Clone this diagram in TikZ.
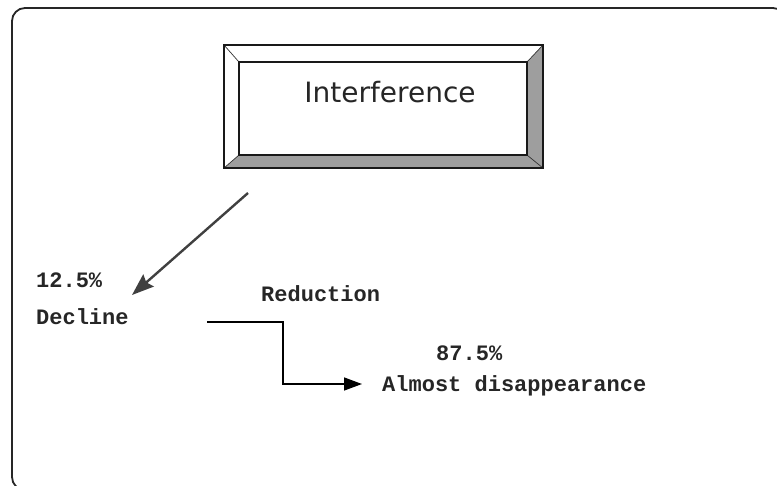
\documentclass[tikz,border=0pt]{standalone}
\usepackage{fontspec}
\newfontfamily\etichfont{Liberation Mono}
\newfontfamily\titfont{DejaVu Sans}
\usetikzlibrary{arrows.meta}

\begin{document}
\begin{tikzpicture}[
	x=1pt, y=-1pt,
	cornice/.style={line width=1.8pt, rounded corners=13pt, draw=black!85},
	smusso/.style={line width=1.6pt, line join=miter, draw=black!90},
	diag/.style={line width=0.7pt, draw=black!80},
	ombra/.style={fill=black!38},
	riquadro/.style={rectangle, inner sep=0pt},
	freccia/.style={line width=2.4pt, draw=black!75,
		-{Stealth[length=22pt,width=16pt,inset=3pt]}},
	gomito/.style={line width=1.4pt, draw=black,
		-{Triangle[length=18pt,width=13pt]}},
	titolo/.style={font=\titfont\fontsize{28}{32}\selectfont,
		text=black!85, inner sep=0pt},
	etich/.style={font=\etichfont\bfseries\fontsize{22}{26}\selectfont,
		text=black!85, inner sep=0pt, anchor=base west},
	]
	\useasboundingbox (0,0) rectangle (777,485);
	
	%% cornice esterna (tagliata sui bordi) ---------------------
	\begin{scope}
		\clip (0,0) rectangle (777,485);
		\draw[cornice] (12,8) rectangle (786,490);
	\end{scope}
	
	%% =========================================================
	%% pulsante in rilievo
	%% =========================================================
	\node[riquadro, minimum width=319pt, minimum height=123pt] (esterno) at (383.5,106.5) {};
	\node[riquadro, minimum width=288pt, minimum height=93pt] (interno) at (383,108.5) {};
	%% lati in ombra (destro e inferiore)
	\fill[ombra] (esterno.north east) -- (esterno.south east) -- (esterno.south west)
		-- (interno.south west) -- (interno.south east) -- (interno.north east) -- cycle;
	%% spigoli
	\foreach \c in {north west,north east,south east,south west}
	\draw[diag] (esterno.\c) -- (interno.\c);
	\draw[smusso] (esterno.north west) rectangle (esterno.south east);
	\draw[smusso] (interno.north west) rectangle (interno.south east);
	\node[titolo] (interf) at (390,92) {Interference};
	
	%% =========================================================
	%% esiti
	%% =========================================================
	\node[etich] (perc1) at (36,287) {12.5\%};
	\node[etich] (calo) at (36,324) {Decline};
	\node[etich] (riduz) at (261,301) {Reduction};
	\node[etich] (perc2) at (436,360) {87.5\%};
	\node[etich] (scomp) at (382,391) {Almost disappearance};
	
	%% freccia obliqua verso il calo
	\coordinate (p0) at (248,193);
	\coordinate (p1) at (132,295);
	\draw[freccia] (p0) -- (p1);
	
	%% freccia a gomito verso la scomparsa
	\coordinate (g0) at (207,322);
	\coordinate (g1) at (362,384);
	\draw[gomito] (g0) -- ++(76,0) |- (g1);
	
\end{tikzpicture}
\end{document}
